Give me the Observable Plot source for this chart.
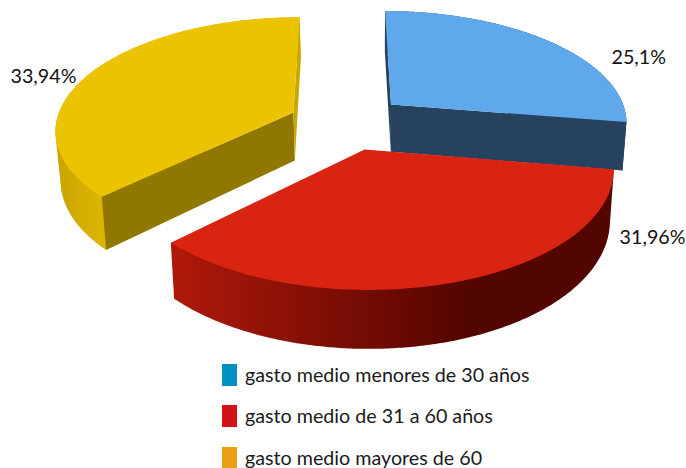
<!DOCTYPE html>
<html>
<head>
<meta charset="utf-8">
<script src="https://cdn.jsdelivr.net/npm/d3@7"></script>
<script src="https://cdn.jsdelivr.net/npm/@observablehq/plot@0.6"></script>
<style>
html,body{margin:0;padding:0;background:#fff;overflow:hidden;height:468px}
#legend{padding-left:222px;padding-top:4px;font:19.7px/20px Lato,sans-serif;color:#1a1a1a}
.row{height:41.5px;display:flex;align-items:center}
.sw{width:15px;height:22px;margin-right:8px;flex:none}
</style>
</head>
<body>
<div id="chart"></div>
<div id="legend"></div>
<script>
// Data
const categories = ["gasto medio menores de 30 años", "gasto medio de 31 a 60 años", "gasto medio mayores de 60"];
const values = [25.1, 31.96, 33.94];
const valueLabels = ["25,1%", "31,96%", "33,94%"];

// Styles
const legendColors = ["#0090c4", "#cf1518", "#eba014"];
const topColors = ["#60a8ec", "#d92411", "#ebc300"];
// cut faces: colour at the slice's start edge and end edge (red's are hidden)
const startWall = ["#26425f", null, "#8f7700"];
const endWall = ["#26425f", null, "#c8a800"];
const wallRamp = [["#26425f", "#26425f"], ["#b0190a", "#530500"], ["#c8a400", "#deb600"]];
const wallRange = [[0, 686], [170, 465], [55, 105]];
// perspective camera and explosion offsets (plane units)
const cam = {x0: 342, yh: -656, b: 786, a: 240, k: 0.145, depth: 49, nx: 377, lean: 0.016};
const explode = [[0.209, -0.236], [0.09, 0.163], [-0.209, -0.161]];
// label placement in pie terms: angle (deg, clockwise from top) and radius
const labelAt = [[68, 1.241], [122.4, 1.24], [287, 1.18]];
const drawOrder = [2, 0, 1];

// Projection of the pie plane
function project(i, theta, r) {
  const u = explode[i][0] + r * Math.sin(theta);
  const v = explode[i][1] - r * Math.cos(theta);
  const w = 1 - cam.k * v;
  return {x: cam.x0 + cam.a * u / w, y: cam.yh + cam.b / w, w};
}
function drop(p) {
  return {x: p.x - (p.x - cam.nx) * cam.lean, y: p.y + cam.depth / p.w};
}

const arcs = d3.pie().sort(null)(values);
const rows = [];
let id = 0;
function poly(points, fill) {
  const z = id++;
  for (const p of [...points, points[0]]) rows.push({x: p.x, y: p.y, z, fill});
}
for (const i of drawOrder) {
  const {startAngle: a0, endAngle: a1} = arcs[i];
  const apex = project(i, 0, 0);
  const s = project(i, a0, 1), e = project(i, a1, 1);
  const thetas = d3.range(a0, a1, 0.01).concat([a1]);
  const rim = thetas.map(t => project(i, t, 1));
  // rim: outline of the arc swept down by the slice's depth
  const hull = d3.polygonHull([...rim, ...rim.map(drop)].map(p => [p.x, p.y]));
  poly(hull.map(([x, y]) => ({x, y})), `url(#rim${i})`);
  // cut faces
  if (startWall[i]) {
    const [w0, w1] = i === 2 ? [endWall[i], startWall[i]] : [startWall[i], endWall[i]];
    poly([apex, s, drop(s), drop(apex)], w1);
    poly([apex, e, drop(e), drop(apex)], w0);
  }
  // top face
  poly([apex, ...rim], topColors[i]);
}

const labels = labelAt.map(([deg, r], i) => {
  const p = project(i, deg * Math.PI / 180, r);
  return {x: p.x, y: p.y, text: valueLabels[i]};
});

// Rim shading, as gradients that the line mark refers to
function rimGradients() {
  const svgNS = "http://www.w3.org/2000/svg";
  const defs = document.createElementNS(svgNS, "defs");
  wallRamp.forEach((colors, i) => {
    const g = document.createElementNS(svgNS, "linearGradient");
    g.setAttribute("id", `rim${i}`);
    g.setAttribute("gradientUnits", "userSpaceOnUse");
    g.setAttribute("x1", wallRange[i][0]);
    g.setAttribute("x2", wallRange[i][1]);
    g.setAttribute("y1", 0);
    g.setAttribute("y2", 0);
    colors.forEach((c, k) => {
      const s = document.createElementNS(svgNS, "stop");
      s.setAttribute("offset", k);
      s.setAttribute("stop-color", c);
      g.append(s);
    });
    defs.append(g);
  });
  return defs;
}

const chart = Plot.plot({
  width: 686,
  height: 350,
  margin: 0,
  x: {domain: [0, 686], range: [0, 686], axis: null},
  y: {domain: [0, 350], range: [0, 350], axis: null},
  color: {type: "identity"},
  marks: [
    rimGradients,
    Plot.line(rows, {x: "x", y: "y", z: "z", fill: "fill", stroke: "none", curve: "linear"}),
    Plot.text(labels, {x: "x", y: "y", text: "text", fontSize: 19.7, fontFamily: "Lato, sans-serif", fill: "#111"})
  ]
});
document.getElementById("chart").append(chart);
chart.style.display = "block";

const legend = d3.select("#legend");
categories.forEach((c, i) => {
  const row = legend.append("div").attr("class", "row");
  row.append("div").attr("class", "sw").style("background", legendColors[i]);
  row.append("div").text(c);
});
</script>
</body>
</html>
